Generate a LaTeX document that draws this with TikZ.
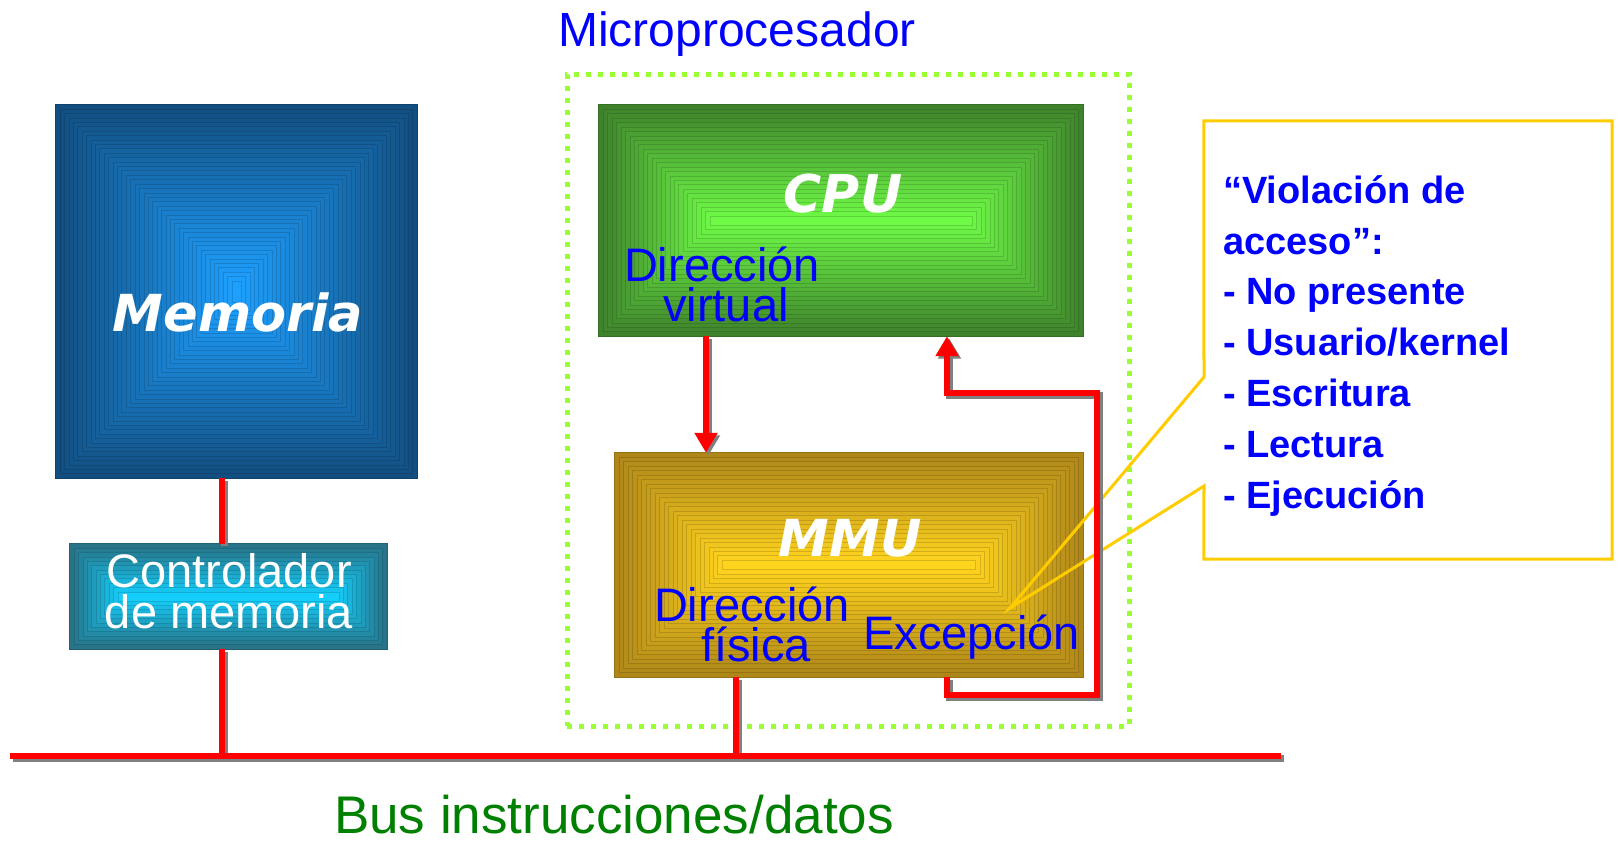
\documentclass[tikz,border=0pt]{standalone}
\usepackage{fontspec}
\setmainfont{Liberation Sans}
\newfontfamily\heavyfont{DejaVu Sans}
\usetikzlibrary{arrows.meta,backgrounds,calc}

\definecolor{lblue}{RGB}{0,0,255}
\definecolor{busgreen}{RGB}{0,128,0}
\definecolor{framegreen}{RGB}{153,255,51}
\definecolor{calloutyellow}{RGB}{255,204,0}
\definecolor{memout}{RGB}{18,78,128}
\definecolor{memin}{RGB}{30,160,255}
\definecolor{ctlout}{RGB}{40,115,135}
\definecolor{ctlin}{RGB}{20,205,250}
\definecolor{cpuout}{RGB}{62,130,44}
\definecolor{cpuin}{RGB}{110,250,70}
\definecolor{mmuout}{RGB}{175,135,25}
\definecolor{mmuin}{RGB}{255,212,30}
\definecolor{wireshade}{RGB}{128,128,128}

% concentric "box" gradient filling a rectangular node
% #1 node, #2 outer colour, #3 inner colour, #4 half of the shorter side
\newcommand{\boxgrad}[4]{%
  \pgfmathtruncatemacro{\bgN}{#4/4.5}%
  \foreach \i in {0,...,\bgN}{%
    \pgfmathtruncatemacro{\bgP}{100*\i/\bgN}%
    \pgfmathsetmacro{\bgD}{#4*\i/(\bgN+1)}%
    \path[fill=#3!\bgP!#2, draw=#3!\bgP!#2!85!black, line width=0.7pt]
      ([shift={(\bgD,\bgD)}]#1.north west) rectangle ([shift={(-\bgD,-\bgD)}]#1.south east);
  }%
}

\begin{document}
\begin{tikzpicture}[x=1pt,y=-1pt,
  plate/.style 2 args={rectangle, inner sep=0pt, minimum width=#1pt, minimum height=#2pt},
  lbl/.style={text=lblue, font=\fontsize{47}{40}\selectfont, inner sep=0pt, align=center},
  heavy/.style={text=white, inner sep=0pt, font=\heavyfont\bfseries\itshape\fontsize{#1}{#1}\selectfont},
  wire/.style={draw=red, line width=6.5pt},
  wireshadow/.style={draw=wireshade, line width=6.5pt, transform canvas={shift={(2.5,2.5)}}},
  arrowhd/.style={-{Triangle[width=22pt,length=20pt]}},
  microframe/.style={draw=framegreen, line width=5pt, dash pattern=on 5pt off 7pt},
  calloutline/.style={draw=calloutyellow, line width=3pt, line join=miter}]

\useasboundingbox (0,0) rectangle (1620,841);

% blocks
\node[plate={361}{373}] (mem) at (236.5,291.5) {};
\node[plate={317}{105}] (ctl) at (228.5,596.5) {};
\node[plate={484}{231}] (cpu) at (841,220.5) {};
\node[plate={468}{224}] (mmu) at (849,565) {};
\node[plate={562}{652}, microframe] (micro) at (848,400) {};
\node[plate={408}{438}] (callout) at (1408,340) {};

\begin{scope}[on background layer]
  \boxgrad{mem}{memout}{memin}{180.5}
  \boxgrad{ctl}{ctlout}{ctlin}{52.5}
  \boxgrad{cpu}{cpuout}{cpuin}{115.5}
  \boxgrad{mmu}{mmuout}{mmuin}{112}
\end{scope}

% texts (multi-line nodes are placed by the baseline of their last line)
\node[anchor=base, text=lblue, inner sep=0pt, font=\fontsize{48}{48}\selectfont] (microlbl) at (737,46) {Microprocesador};
\node[heavy=51, anchor=base] (memlbl) at (238,331) {Memoria};
\node[heavy=52, anchor=base] (cpulbl) at (843,212) {CPU};
\node[heavy=51, anchor=base] (mmulbl) at (850,556) {MMU};
\node[lbl, text=white, anchor=base, font=\fontsize{47}{41}\selectfont] (ctllbl) at (229,628) {Controlador\\de memoria};
\node[lbl, anchor=base] (vdir) at (722,321) {Dirección\\\hspace*{8pt}virtual};
\node[lbl, anchor=base] (pdir) at (752,661) {Dirección\\\hspace*{8pt}física};
\node[lbl, anchor=base west] (exc) at (863,649) {Excepción};
\node[anchor=base, text=busgreen, inner sep=0pt, font=\fontsize{53}{53}\selectfont] (buslbl) at (614,833) {Bus instrucciones/datos};
\node[anchor=base west, align=left, text=lblue, inner sep=0pt, font=\fontsize{38}{50.8}\selectfont\bfseries] (viol) at (1223,508)
  {“Violación de\\acceso”:\\- No presente\\- Usuario/kernel\\- Escritura\\- Lectura\\- Ejecución};

% callout outline with its pointer
\coordinate (ptip) at (1010,608);
\coordinate (n1) at (1204,377);
\coordinate (n2) at (1204,486);
\draw[calloutline] (n1) -- (callout.north west) -- (callout.north east) -- (callout.south east)
  -- (callout.south west) -- (n2) -- (ptip) -- cycle;

% bus and connectors
\coordinate (busL) at (10,756);
\coordinate (busR) at (1281,756);
\coordinate (cx) at (222,0);
\coordinate (ax) at (706,0);
\coordinate (mx) at (736,0);
\coordinate (ex) at (947,0);
\coordinate (lb) at (1097,695);
\coordinate (lt) at (947,393);

\foreach \w in {wireshadow,wire}{
  \draw[\w] (busL) -- (busR);
  \draw[\w] (mem.south -| cx) -- (ctl.north -| cx);
  \draw[\w] (ctl.south -| cx) -- (cx |- busL);
  \draw[\w] (mmu.south -| mx) -- (mx |- busL);
  \draw[\w, arrowhd] (cpu.south -| ax) -- (mmu.north -| ax);
  \draw[\w, arrowhd] (mmu.south -| ex) |- (lb) |- (lt) -- (cpu.south -| ex);
}
\end{tikzpicture}
\end{document}
